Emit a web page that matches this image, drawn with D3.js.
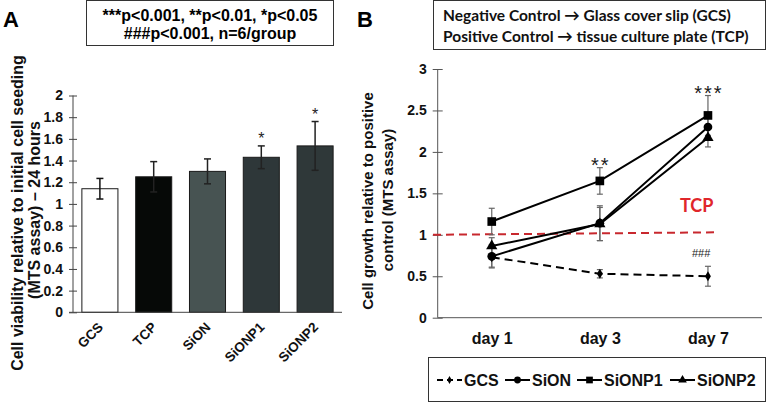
<!DOCTYPE html>
<html><head><meta charset="utf-8">
<script src="https://cdn.jsdelivr.net/npm/d3@7"></script>
<style>body{margin:0;background:#fff}svg{display:block}</style>
</head><body>
<svg id="c" width="777" height="403"></svg>
<script>
// ---- Panel A data ----
const barCats = ["GCS","TCP","SiON","SiONP1","SiONP2"];
const barVals = [1.14,1.25,1.30,1.43,1.535];
const barErrs = [0.095,0.14,0.115,0.105,0.225];
const barColors = ["#ffffff","#060907","#475352","#2e3739","#2f3839"];
const barStars = ["","","","*","*"];
const yTicksA = [0,0.2,0.4,0.6,0.8,1,1.2,1.4,1.6,1.8,2];
const yTickLabelsA = ["0","0.2","0.4","0.6","0.8","1","1.2","1.4","1.6","1.8","2"];

// ---- Panel B data ----
const days = ["day 1","day 3","day 7"];
const gcsVals = [0.73,0.53,0.50];
const gcsErrs = [0.12,0.05,0.12];
const sionVals = [0.74,1.14,2.30];
const sionErrs = [0.14,0.21,0.12];
const np1Vals = [1.16,1.65,2.44];
const np1Errs = [0.16,0.16,0.24];
const np2Vals = [0.865,1.13,2.17];
const np2Errs = [0.10,0.20,0.11];
const seriesNames = ["GCS","SiON","SiONP1","SiONP2"];
const seriesSymbols = ["diamond","circle","square","triangle"];
const dayStars = ["","**","***"];
const tcpLine = [1.0,1.03];
const yTicksB = [0,0.5,1,1.5,2,2.5,3];

const svg = d3.select("#c");
const F = "'Liberation Sans', Arial, sans-serif";
const F2 = "Lato, 'Open Sans', sans-serif";

// ===== Panel A =====
const xA = d3.scaleBand().domain(barCats).range([73,342]).paddingInner(0.33).paddingOuter(0.165);
const yA = d3.scaleLinear().domain([0,2]).range([312.3,95.5]);
const gA = svg.append("g");

gA.append("text").attr("x",3).attr("y",27).text("A")
  .attr("font-family",F).attr("font-weight","bold").attr("font-size",22);

gA.append("rect").attr("x",86.5).attr("y",0.5).attr("width",247).attr("height",45)
  .attr("fill","none").attr("stroke","#333").attr("stroke-width",1);
gA.append("text").attr("x",210).attr("y",21).attr("text-anchor","middle")
  .attr("font-family",F).attr("font-weight","bold").attr("font-size",16).text("***p<0.001, **p<0.01, *p<0.05");
gA.append("text").attr("x",210).attr("y",39).attr("text-anchor","middle")
  .attr("font-family",F).attr("font-weight","bold").attr("font-size",16).text("###p<0.001, n=6/group");

// bars
gA.selectAll("rect.bar").data(barCats).enter().append("rect").attr("class","bar")
  .attr("x",d=>xA(d)).attr("width",xA.bandwidth())
  .attr("y",(d,i)=>yA(barVals[i])).attr("height",(d,i)=>yA(0)-yA(barVals[i]))
  .attr("fill",(d,i)=>barColors[i]).attr("stroke","#1a1a1a").attr("stroke-width",1);
// error bars
barCats.forEach((d,i)=>{
  const cx = xA(d)+xA.bandwidth()/2;
  const t = yA(barVals[i]+barErrs[i]), b = yA(barVals[i]-barErrs[i]);
  const col = i===0 ? "#111" : "#222";
  gA.append("line").attr("x1",cx).attr("x2",cx).attr("y1",t).attr("y2",b).attr("stroke",col).attr("stroke-width",1.5);
  gA.append("line").attr("x1",cx-3.5).attr("x2",cx+3.5).attr("y1",t).attr("y2",t).attr("stroke",col).attr("stroke-width",1.5);
  gA.append("line").attr("x1",cx-3.5).attr("x2",cx+3.5).attr("y1",b).attr("y2",b).attr("stroke",col).attr("stroke-width",1.5);
  if(barStars[i]) gA.append("text").attr("x",cx).attr("y",t-2).attr("text-anchor","middle")
     .attr("font-family",F).attr("font-size",16).attr("fill","#222").text(barStars[i]);
});
// y axis A
const axA = gA.append("g").attr("transform","translate(73,0)")
  .call(d3.axisLeft(yA).tickValues(yTicksA).tickFormat((d,i)=>yTickLabelsA[i]).tickSize(4).tickPadding(6));
axA.select(".domain").attr("stroke","#444").attr("d","M0,"+yA(2)+"V"+yA(0));
axA.selectAll(".tick line").attr("x1",-4).attr("x2",4).attr("stroke","#444");
axA.selectAll("text").attr("font-family",F).attr("font-weight","bold").attr("font-size",14).attr("fill","#111");
// baseline
gA.append("line").attr("x1",69).attr("x2",342).attr("y1",yA(0)).attr("y2",yA(0)).attr("stroke","#444");
// x labels
barCats.forEach(d=>{
  const cx = xA(d)+xA.bandwidth()/2+4;
  gA.append("text").attr("transform",`translate(${cx},${328}) rotate(-45)`).attr("text-anchor","end")
    .attr("font-family",F).attr("font-weight","bold").attr("font-size",13.5).attr("fill","#111").text(d);
});
// y label A
gA.append("text").attr("transform","translate(23,213) rotate(-90)").attr("text-anchor","middle")
  .attr("font-family",F).attr("font-weight","bold").attr("font-size",16).attr("fill","#111")
  .text("Cell viability relative to initial cell seeding");
gA.append("text").attr("transform","translate(40,210) rotate(-90)").attr("text-anchor","middle")
  .attr("font-family",F).attr("font-weight","bold").attr("font-size",16).attr("fill","#111")
  .text("(MTS assay) \u2013 24 hours");

// ===== Panel B =====
const gB = svg.append("g");
gB.append("text").attr("x",357).attr("y",27).text("B")
  .attr("font-family",F).attr("font-weight","bold").attr("font-size",22);
gB.append("rect").attr("x",433.5).attr("y",0.5).attr("width",332).attr("height",49)
  .attr("fill","none").attr("stroke","#333").attr("stroke-width",1);
gB.append("text").attr("x",443).attr("y",21).attr("font-family",F2).attr("font-weight","bold")
  .attr("font-size",15.5).attr("fill","#111").text("Negative Control \u2192 Glass cover slip (GCS)");
gB.append("text").attr("x",443).attr("y",42).attr("font-family",F2).attr("font-weight","bold")
  .attr("font-size",15.5).attr("fill","#111").text("Positive Control \u2192 tissue culture plate (TCP)");

const xB = d3.scalePoint().domain(days).range([437.7,762]).padding(0.5);
const yB = d3.scaleLinear().domain([0,3]).range([317.7,69]);

const axB = gB.append("g").attr("transform","translate(437.7,0)")
  .call(d3.axisLeft(yB).tickValues(yTicksB).tickFormat(d3.format("")).tickSize(5).tickPadding(6));
axB.select(".domain").attr("stroke","#555").attr("d","M0,"+yB(3)+"V"+yB(0));
axB.selectAll(".tick line").attr("x1",-5).attr("x2",5).attr("stroke","#555");
axB.selectAll("text").attr("font-family",F).attr("font-weight","bold").attr("font-size",14).attr("fill","#111");
const axBx = gB.append("g").attr("transform",`translate(0,${yB(0)})`)
  .call(d3.axisBottom(xB).tickSize(0).tickPadding(15));
axBx.select(".domain").attr("stroke","#555").attr("d","M437.7,0H762");
axBx.selectAll("text").attr("font-family",F).attr("font-weight","bold").attr("font-size",16).attr("fill","#111");

gB.append("text").attr("transform","translate(373,201) rotate(-90)").attr("text-anchor","middle")
  .attr("font-family",F).attr("font-weight","bold").attr("font-size",15).attr("fill","#111")
  .text("Cell growth relative to positive");
gB.append("text").attr("transform","translate(393,200) rotate(-90)").attr("text-anchor","middle")
  .attr("font-family",F).attr("font-weight","bold").attr("font-size",15).attr("fill","#111")
  .text("control (MTS assay)");

// TCP line
gB.append("line").attr("x1",433).attr("x2",718).attr("y1",yB(tcpLine[0])).attr("y2",yB(tcpLine[1]))
  .attr("stroke","#c8282e").attr("stroke-width",2).attr("stroke-dasharray","8,5");
gB.append("text").attr("x",680).attr("y",212).attr("font-family",F2).attr("font-weight","bold")
  .attr("font-size",18).attr("fill","#e0262b").text("TCP");
gB.append("text").attr("x",692).attr("y",257).attr("font-family",F).attr("font-size",11).attr("fill","#222").text("###");

const allVals = [gcsVals,sionVals,np1Vals,np2Vals];
const allErrs = [gcsErrs,sionErrs,np1Errs,np2Errs];
const symMap = {diamond:d3.symbolDiamond,circle:d3.symbolCircle,square:d3.symbolSquare,triangle:d3.symbolTriangle};
const symSize = {diamond:30,circle:60,square:75,triangle:55};
const line = d3.line().x((d,i)=>xB(days[i])).y(d=>yB(d));

// error bars first
allVals.forEach((vals,s)=>{
  vals.forEach((v,i)=>{
    const cx = xB(days[i]); const t=yB(v+allErrs[s][i]), b=yB(v-allErrs[s][i]);
    gB.append("line").attr("x1",cx).attr("x2",cx).attr("y1",t).attr("y2",b).attr("stroke","#666").attr("stroke-width",1.2);
    [t,b].forEach(yy=>gB.append("line").attr("x1",cx-3).attr("x2",cx+3).attr("y1",yy).attr("y2",yy).attr("stroke","#666").attr("stroke-width",1.2));
  });
});
allVals.forEach((vals,s)=>{
  gB.append("path").attr("d",line(vals)).attr("fill","none").attr("stroke","#000").attr("stroke-width",2)
    .attr("stroke-dasharray",s===0?"8,5":null);
  vals.forEach((v,i)=>{
    gB.append("path").attr("d",d3.symbol().type(symMap[seriesSymbols[s]]).size(symSize[seriesSymbols[s]])())
      .attr("transform",`translate(${xB(days[i])},${yB(v)})`).attr("fill","#000");
  });
});
days.forEach((d,i)=>{
  if(dayStars[i]){
    const s = np1Vals[i]+np1Errs[i];
    gB.append("text").attr("x",xB(d)+1).attr("y",yB(s)+4).attr("text-anchor","middle")
      .attr("font-family",F).attr("font-size",20).attr("letter-spacing",2).attr("fill","#1a1a1a").text(dayStars[i]);
  }
});

// legend B
gB.append("rect").attr("x",428.5).attr("y",357.5).attr("width",337).attr("height",44)
  .attr("fill","none").attr("stroke","#333").attr("stroke-width",1);
const legX = [437,505,577,670];
seriesNames.forEach((n,s)=>{
  const x0 = legX[s], yy = 380;
  gB.append("line").attr("x1",x0).attr("x2",x0+25).attr("y1",yy).attr("y2",yy).attr("stroke","#000").attr("stroke-width",2)
    .attr("stroke-dasharray",s===0?"6,4":null);
  gB.append("path").attr("d",d3.symbol().type(symMap[seriesSymbols[s]]).size(symSize[seriesSymbols[s]]*0.6)())
    .attr("transform",`translate(${x0+12.5},${yy})`).attr("fill","#000");
  gB.append("text").attr("x",x0+27).attr("y",yy+5.5).attr("font-family",F).attr("font-weight","bold")
    .attr("font-size",16).attr("fill","#111").text(n);
});
</script>
</body></html>
